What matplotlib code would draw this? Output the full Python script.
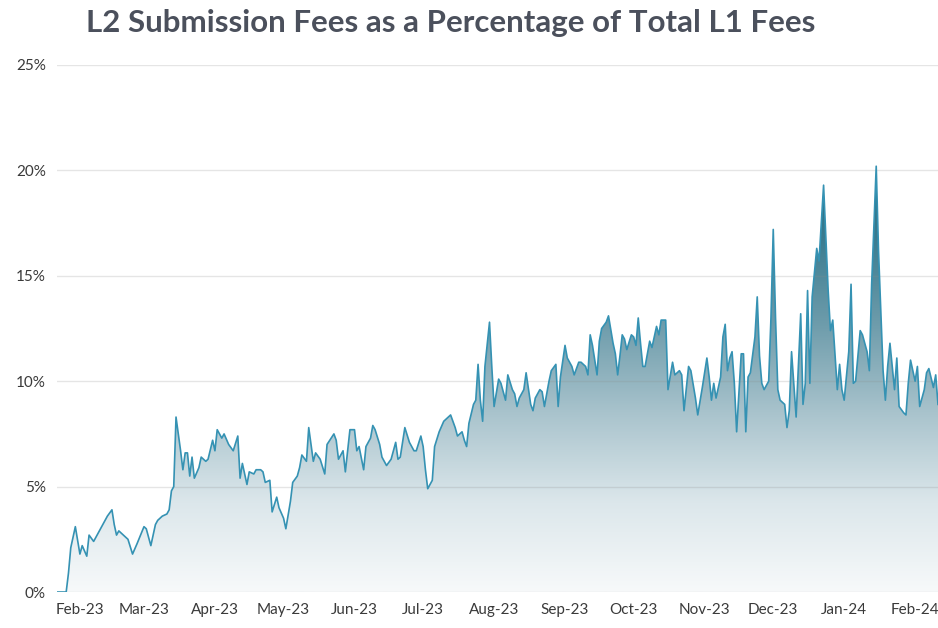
import numpy as np
import pandas as pd
import matplotlib
matplotlib.use('Agg')
import matplotlib.pyplot as plt
import matplotlib.dates as mdates
from matplotlib.colors import LinearSegmentedColormap
from matplotlib.ticker import FuncFormatter

# daily series (days counted from start_date)
start_date = '2023-01-22'
day_offset = [
    0, 4, 5, 6, 8, 10, 11, 13, 14, 16, 18, 20, 22, 24, 25, 26, 27, 30, 31, 33,
    35, 38, 39, 41, 43, 44, 46, 48, 49, 50, 51, 52, 54, 55, 56, 57, 58, 59, 60, 62,
    63, 65, 66, 68, 69, 70, 72, 73, 75, 77, 79, 80, 81, 83, 84, 86, 87, 89, 90, 91,
    93, 94, 96, 97, 99, 100, 102, 103, 105, 106, 107, 109, 110, 112, 113, 115, 117, 118, 121, 122,
    123, 125, 126, 128, 130, 131, 132, 134, 135, 137, 138, 139, 141, 142, 144, 146, 148, 149, 150, 152,
    154, 156, 157, 159, 160, 161, 162, 164, 165, 167, 169, 172, 174, 175, 177, 178, 179, 180, 182, 183,
    184, 185, 186, 187, 189, 190, 191, 193, 194, 196, 197, 199, 200, 201, 202, 204, 205, 207, 208, 209,
    211, 212, 213, 215, 216, 218, 219, 220, 222, 223, 225, 226, 228, 229, 231, 232, 233, 234, 236, 237,
    238, 240, 241, 243, 244, 245, 246, 247, 248, 249, 251, 252, 253, 254, 255, 256, 257, 259, 260, 261,
    262, 263, 264, 266, 267, 269, 270, 272, 273, 274, 276, 277, 279, 280, 282, 284, 285, 286, 287, 288,
    290, 291, 292, 293, 294, 295, 296, 297, 299, 300, 301, 302, 303, 305, 306, 307, 308, 309, 311, 312,
    313, 314, 315, 316, 318, 319, 320, 321, 323, 325, 326, 327, 328, 329, 330, 332, 333, 335, 337, 338,
    339, 341, 342, 343, 344, 346, 347, 348, 349, 351, 352, 354, 355, 356, 358, 359, 361, 362, 363, 364,
    366, 367, 368, 370, 371, 372, 373, 375, 376, 377, 379, 380, 381, 383, 384, 385,
]
fee_pct = [
    0.0, 0.0, 0.9, 2.1, 3.1, 1.8, 2.2, 1.7, 2.7, 2.4, 2.8, 3.2, 3.6, 3.9, 3.2, 2.7, 2.9, 2.6, 2.5, 1.8,
    2.3, 3.1, 3.0, 2.2, 3.2, 3.4, 3.6, 3.7, 3.9, 4.8, 5.0, 8.3, 6.7, 5.8, 6.6, 6.6, 5.5, 6.4, 5.4, 5.9,
    6.4, 6.2, 6.3, 7.2, 6.7, 7.7, 7.3, 7.5, 7.0, 6.7, 7.4, 5.4, 6.1, 5.1, 5.7, 5.6, 5.8, 5.8, 5.7, 5.2,
    5.3, 3.8, 4.5, 4.0, 3.5, 3.0, 4.3, 5.2, 5.5, 5.9, 6.5, 6.2, 7.8, 6.2, 6.6, 6.3, 5.6, 7.0, 7.5, 7.2,
    6.3, 6.7, 5.7, 7.7, 7.7, 6.7, 6.9, 5.8, 6.9, 7.3, 7.9, 7.7, 7.0, 6.4, 6.0, 6.3, 7.1, 6.3, 6.4, 7.8,
    7.1, 6.7, 6.7, 7.4, 6.9, 5.8, 4.9, 5.3, 6.9, 7.6, 8.1, 8.4, 7.8, 7.4, 7.6, 7.2, 6.9, 8.0, 8.9, 9.1,
    10.8, 9.1, 8.1, 10.7, 12.8, 10.7, 8.8, 10.1, 9.9, 9.1, 10.3, 9.6, 9.4, 8.8, 9.2, 9.6, 10.4, 8.9, 8.6, 9.2,
    9.6, 9.5, 8.8, 10.0, 10.5, 10.8, 8.8, 10.2, 11.7, 11.1, 10.7, 10.3, 10.9, 10.9, 10.7, 10.3, 12.2, 11.7, 10.3, 11.9,
    12.5, 12.8, 13.1, 11.8, 11.3, 10.3, 11.2, 12.2, 12.0, 11.5, 12.2, 12.1, 11.7, 13.0, 11.8, 10.7, 10.7, 11.9, 11.6, 12.1,
    12.6, 12.2, 12.9, 12.9, 9.6, 10.9, 10.3, 10.5, 10.3, 8.6, 10.7, 10.5, 9.2, 8.4, 9.7, 11.1, 10.2, 9.1, 9.9, 9.2,
    10.2, 12.1, 12.7, 10.5, 11.1, 11.4, 9.9, 7.6, 11.3, 11.3, 7.6, 10.2, 10.4, 12.1, 14.0, 11.2, 9.9, 9.6, 10.0, 13.0,
    17.2, 13.0, 9.6, 9.1, 8.9, 7.8, 8.6, 11.4, 8.3, 13.2, 8.9, 9.9, 14.3, 9.9, 14.0, 16.3, 15.7, 19.3, 14.3, 12.4,
    12.9, 9.6, 10.8, 9.6, 9.1, 11.4, 14.6, 9.9, 10.0, 12.4, 12.2, 11.4, 10.5, 14.6, 20.2, 16.2, 10.5, 9.1, 10.7, 11.8,
    9.6, 11.1, 8.8, 8.5, 8.4, 9.9, 11.0, 10.0, 10.7, 8.8, 9.6, 10.4, 10.6, 9.7, 10.3, 8.9,
]
y_ticks = [0, 5, 10, 15, 20, 25]

dates = pd.Timestamp(start_date) + pd.to_timedelta(day_offset, unit='D')
x = mdates.date2num(dates)

fig = plt.figure(figsize=(9.38, 6.28), dpi=100)
ax = fig.add_axes([0.0608, 0.0573, 0.9392, 0.8392])

# gradient fill under the line, clipped to the area polygon
area = ax.fill_between(x, fee_pct, 0, facecolor='none', edgecolor='none')
fade = LinearSegmentedColormap.from_list(
    'fade', ['#f7f9fa', '#dce7eb', '#aac4cd', '#6f9dac', '#3b7c90', '#1b677c'])
grad = np.linspace(0, 1, 256).reshape(-1, 1)
img = ax.imshow(grad, cmap=fade, aspect='auto', origin='lower',
                extent=[x[0], x[-1], 0, 21], zorder=1)
img.set_clip_path(area.get_paths()[0], transform=ax.transData)

ax.plot(x, fee_pct, color='#3592b3', lw=1.2, zorder=3)

ax.set_xlim(x[0], x[-1])
ax.set_ylim(0, 25)
ax.set_yticks(y_ticks)
ax.yaxis.set_major_formatter(FuncFormatter(lambda v, p: f'{v:.0f}%'))
ax.xaxis.set_major_locator(mdates.MonthLocator())
ax.xaxis.set_major_formatter(mdates.DateFormatter('%b-%y'))
ax.yaxis.grid(True, color='#8c8c8c', alpha=0.22, lw=1)

for s in ax.spines.values():
    s.set_visible(False)
ax.tick_params(axis='both', length=0, labelsize=11, labelcolor='#3a3a3a')
ax.tick_params(axis='y', pad=8)
ax.tick_params(axis='x', pad=8)
for lab in ax.get_xticklabels() + ax.get_yticklabels():
    lab.set_family('Lato')

fig.text(0.48, 0.963, 'L2 Submission Fees as a Percentage of Total L1 Fees',
         ha='center', va='center', fontsize=22.5, color='#4b505c',
         family='Lato', weight='bold')

fig.savefig('out.png', dpi=100)
